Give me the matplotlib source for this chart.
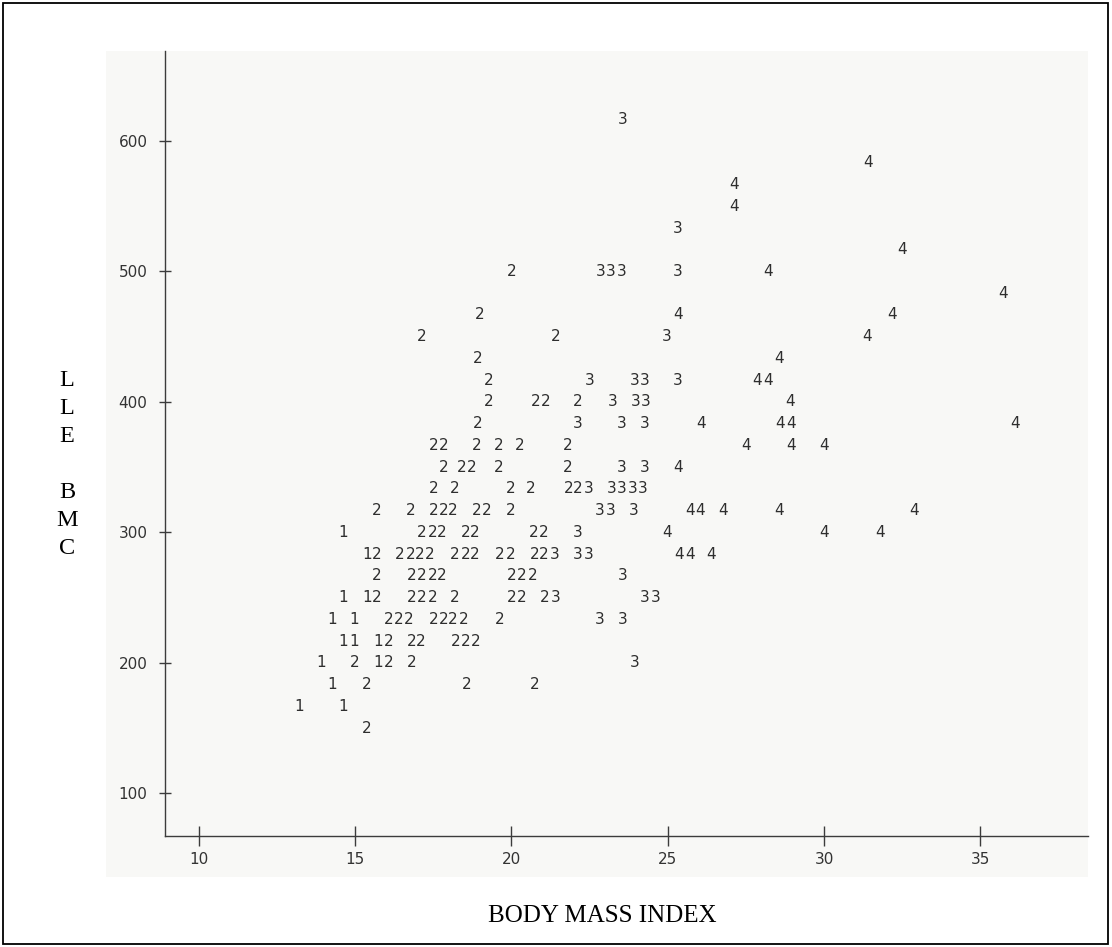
import matplotlib
matplotlib.use("Agg")
import matplotlib.pyplot as plt
from matplotlib.patches import Rectangle

# printer-plot style scatter: each point is drawn as its group digit
# group 1
bmi_1 = [14.63, 15.37, 14.63, 15.37, 14.27, 14.97, 14.63, 14.97, 15.73,
         13.9, 15.73, 14.27, 13.2, 14.63]
bmc_1 = [300, 283.3, 250, 250, 233.3, 233.3, 216.7, 216.7, 216.7,
         200, 200, 183.3, 166.7, 166.7]

# group 2
bmi_2 = [20.0,
         19.0,
         17.13, 21.4,
         18.93,
         19.27,
         19.27, 20.77, 21.1, 22.13,
         18.93,
         17.5, 17.83, 18.9, 19.6, 20.27, 21.8,
         17.83, 18.4, 18.73, 19.6, 21.8,
         17.5, 18.2, 19.97, 20.6, 21.83, 22.13,
         15.7, 16.77, 17.5, 17.83, 18.13, 18.9, 19.2, 19.97,
         17.13, 17.47, 17.77, 18.53, 18.83, 20.7, 21.03,
         15.7, 16.43, 16.77, 17.07, 17.4, 18.2, 18.53, 18.83, 19.63, 19.97, 20.73, 21.03,
         15.7, 16.8, 17.13, 17.47, 17.77, 20.0, 20.33, 20.67,
         15.7, 16.8, 17.13, 17.47, 18.2, 20.0, 20.33, 21.07,
         16.07, 16.4, 16.7, 17.5, 17.83, 18.13, 18.47, 19.63,
         16.07, 16.8, 17.1, 18.23, 18.53, 18.87,
         15.0, 16.07, 16.8,
         15.37, 18.57, 20.73,
         15.37]
bmc_2 = [500,
         466.7,
         450, 450,
         433.3,
         416.7,
         400, 400, 400, 400,
         383.3,
         366.7, 366.7, 366.7, 366.7, 366.7, 366.7,
         350, 350, 350, 350, 350,
         333.3, 333.3, 333.3, 333.3, 333.3, 333.3,
         316.7, 316.7, 316.7, 316.7, 316.7, 316.7, 316.7, 316.7,
         300, 300, 300, 300, 300, 300, 300,
         283.3, 283.3, 283.3, 283.3, 283.3, 283.3, 283.3, 283.3, 283.3, 283.3, 283.3, 283.3,
         266.7, 266.7, 266.7, 266.7, 266.7, 266.7, 266.7, 266.7,
         250, 250, 250, 250, 250, 250, 250, 250,
         233.3, 233.3, 233.3, 233.3, 233.3, 233.3, 233.3, 233.3,
         216.7, 216.7, 216.7, 216.7, 216.7, 216.7,
         200, 200, 200,
         183.3, 183.3, 183.3,
         150]

# group 3
bmi_3 = [23.57,
         25.33,
         22.85, 23.18, 23.52, 25.33,
         24.97,
         22.5, 23.93, 24.27, 25.33,
         23.23, 23.97, 24.3,
         22.13, 23.53, 24.27,
         23.53, 24.27,
         22.47, 23.2, 23.53, 23.87, 24.2,
         22.83, 23.17, 23.9,
         22.13,
         21.37, 22.13, 22.47,
         23.57,
         21.4, 24.27, 24.6,
         22.83, 23.57,
         23.93]
bmc_3 = [616.7,
         533.3,
         500, 500, 500, 500,
         450,
         416.7, 416.7, 416.7, 416.7,
         400, 400, 400,
         383.3, 383.3, 383.3,
         350, 350,
         333.3, 333.3, 333.3, 333.3, 333.3,
         316.7, 316.7, 316.7,
         300,
         283.3, 283.3, 283.3,
         266.7,
         250, 250, 250,
         233.3, 233.3,
         200]

# group 4
bmi_4 = [31.4, 27.13, 27.13, 32.5, 28.2, 35.73,
         25.33, 32.17,
         31.37,
         28.57,
         27.87, 28.2,
         28.9,
         26.07, 28.6, 28.93, 36.1,
         27.5, 28.93, 30.0,
         25.33,
         25.7, 26.03, 26.77, 28.57, 32.87,
         24.97, 30.0, 31.8,
         25.37, 25.7, 26.4]
bmc_4 = [583.3, 566.7, 550, 516.7, 500, 483.3,
         466.7, 466.7,
         450,
         433.3,
         416.7, 416.7,
         400,
         383.3, 383.3, 383.3, 383.3,
         366.7, 366.7, 366.7,
         350,
         316.7, 316.7, 316.7, 316.7, 316.7,
         300, 300, 300,
         283.3, 283.3, 283.3]

group_labels = ["1", "2", "3", "4"]
x_ticks = [10, 15, 20, 25, 30, 35]
y_ticks = [100, 200, 300, 400, 500, 600]
x_title = "BODY MASS INDEX"
y_title = "LLE BMC"

W, H = 1112, 947
fig = plt.figure(figsize=(W / 100, H / 100), dpi=100)
fig.patch.set_facecolor("white")


def fx(px):
    return px / W


def fy(py):
    return 1 - py / H


# scanned page area + outer frame
fig.add_artist(Rectangle((fx(106), fy(877)), fx(1088) - fx(106), fy(51) - fy(877),
                         transform=fig.transFigure, facecolor="#f8f8f6",
                         edgecolor="none", zorder=0))
fig.add_artist(Rectangle((fx(3), fy(944)), fx(1108) - fx(3), fy(3) - fy(944),
                         transform=fig.transFigure, facecolor="none",
                         edgecolor="black", linewidth=1.3, zorder=5))

ax = fig.add_axes([fx(165.3), fy(836), fx(1088) - fx(165.3), fy(51) - fy(836)])
ax.patch.set_alpha(0)
ax.set_xlim(8.93, 38.44)
ax.set_ylim(67.3, 669)

for sp in ["top", "right"]:
    ax.spines[sp].set_visible(False)
for sp in ["left", "bottom"]:
    ax.spines[sp].set_color("#3c3c3c")
    ax.spines[sp].set_linewidth(1.0)

ax.set_xticks(x_ticks)
ax.set_yticks(y_ticks)
ax.tick_params(axis="x", direction="inout", length=14.4, width=1.0, color="#3c3c3c",
               labelsize=11, labelcolor="#333333", pad=4)
ax.tick_params(axis="y", direction="inout", length=8.6, width=1.0, color="#3c3c3c",
               labelsize=11, labelcolor="#333333", pad=8.6)

series = [(bmi_1, bmc_1), (bmi_2, bmc_2), (bmi_3, bmc_3), (bmi_4, bmc_4)]
for lab, (xs, ys) in zip(group_labels, series):
    for x, y in zip(xs, ys):
        ax.text(x, y, lab, ha="center", va="center", fontsize=11, color="#2e2e2e")

serif = ["Liberation Serif", "DejaVu Serif"]
fig.text(fx(602), fy(916), x_title, ha="center", va="center",
         fontsize=18, family=serif, color="black")

letter_y = 380
for ch in y_title:
    if ch != " ":
        fig.text(fx(67), fy(letter_y), ch, ha="center", va="center",
                 fontsize=17.5, family=serif, color="black")
    letter_y += 28

fig.savefig("out.png", dpi=100)
